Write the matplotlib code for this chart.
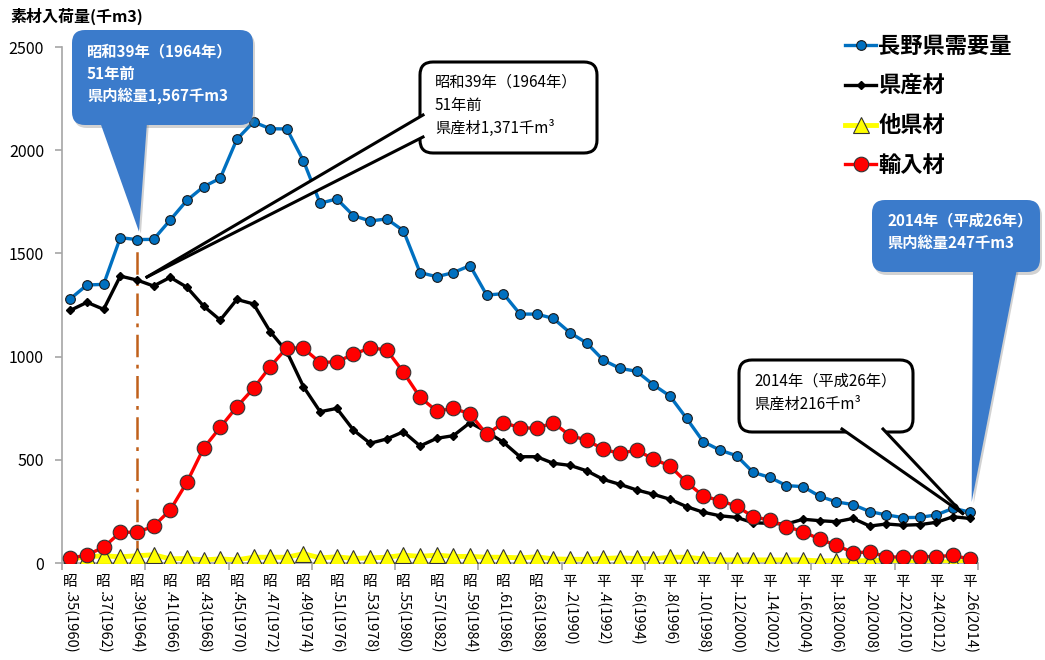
import matplotlib
matplotlib.use("Agg")
import matplotlib.pyplot as plt
from matplotlib.patches import FancyBboxPatch, Polygon
from matplotlib.lines import Line2D
from matplotlib.transforms import Affine2D, blended_transform_factory

plt.rcParams['font.family'] = ['Noto Sans CJK JP', 'DejaVu Sans']

# data (千m3), 1960-2014
years = list(range(1960, 2015))
demand = [1280, 1347, 1350, 1576, 1567, 1568, 1662, 1757, 1823, 1864,
          2053, 2137, 2104, 2103, 1948, 1743, 1764, 1683, 1657, 1667,
          1610, 1407, 1387, 1407, 1441, 1298, 1305, 1206, 1206, 1185,
          1116, 1066, 983, 943, 929, 864, 809, 701, 588, 547,
          520, 439, 415, 375, 370, 323, 296, 283, 249, 233,
          220, 221, 233, 265, 247]
pref = [1224, 1263, 1229, 1390, 1371, 1342, 1384, 1336, 1245, 1177,
        1277, 1255, 1121, 1024, 854, 733, 749, 644, 580, 601,
        636, 567, 604, 617, 680, 636, 585, 515, 515, 483,
        473, 447, 405, 381, 354, 333, 309, 273, 246, 229,
        221, 195, 192, 189, 212, 205, 200, 216, 179, 189,
        183, 186, 197, 224, 216]
other = [20, 30, 35, 30, 35, 40, 20, 22, 15, 20,
         15, 28, 28, 28, 45, 25, 30, 22, 25, 28,
         38, 32, 38, 32, 32, 28, 28, 25, 30, 20,
         18, 18, 22, 25, 22, 20, 28, 28, 20, 15,
         15, 15, 15, 15, 15, 10, 12, 10, 12, 12,
         5, 5, 5, 5, 8]
imported = [23, 39, 76, 149, 149, 178, 257, 391, 556, 657,
            757, 846, 951, 1043, 1040, 971, 975, 1011, 1043, 1032,
            924, 803, 736, 749, 723, 623, 680, 656, 652, 680,
            617, 596, 551, 531, 547, 504, 470, 391, 325, 302,
            276, 224, 208, 176, 152, 115, 86, 50, 53, 31,
            27, 31, 31, 37, 19]

W, H = 1045, 660
fig = plt.figure(figsize=(W / 100, H / 100), dpi=100)
ax = fig.add_axes([62 / W, 97 / H, 916 / W, 516 / H])
pxT = Affine2D().scale(1 / W, -1 / H).translate(0, 1) + fig.transFigure

x = list(range(len(years)))
ax.plot(x, demand, color='#0070C0', lw=2.4, marker='o', ms=7, mfc='#0070C0',
        mec='#1a1a1a', mew=0.8, label='長野県需要量', zorder=3)
ax.plot(x, pref, color='black', lw=2.4, marker='D', ms=4.5, mfc='black',
        mec='black', label='県産材', zorder=4)
ax.plot(x, other, color='#FFFF00', lw=3.5, marker='^', ms=12, mfc='#FFFF00',
        mec='#333333', mew=0.8, label='他県材', zorder=5)
ax.plot(x, imported, color='#FF0000', lw=2.4, marker='o', ms=10.5, mfc='#FF0000',
        mec='#333333', mew=0.8, label='輸入材', zorder=6)

# 1964 marker line
i64 = years.index(1964)
ax.plot([i64, i64], [0, demand[i64]], color='#C0601A', lw=1.8,
        ls=(0, (9, 3, 1.5, 3)), zorder=2)

ax.set_xlim(-0.5, len(years) - 0.5)
ax.set_ylim(0, 2500)
ax.set_yticks(range(0, 2501, 500))
ax.set_xticks([k - 0.5 for k in range(0, len(years) + 1, 5)])
ax.set_xticklabels([])
for s in ['top', 'right']:
    ax.spines[s].set_visible(False)
for s in ['left', 'bottom']:
    ax.spines[s].set_color('#a6a6a6')
    ax.spines[s].set_linewidth(1.2)
ax.tick_params(axis='both', colors='#a6a6a6', length=5, width=1.2)
ax.tick_params(axis='y', labelcolor='black', labelsize=11.5, pad=8)

# era style x labels: kanji upright, rest rotated
tx = blended_transform_factory(ax.transData, pxT)
for i in range(0, len(years), 2):
    y = years[i]
    if y <= 1988:
        era, rest = '昭', '.%d(%d)' % (y - 1925, y)
    else:
        era, rest = '平', '.%d(%d)' % (y - 1988, y)
    ax.text(i, 582, era, transform=tx, ha='center', va='center', fontsize=10.5, clip_on=False)
    ax.text(i, 591, rest, transform=tx, ha='center', va='top', rotation=-90,
            fontsize=10.5, clip_on=False)

fig.text(10, 16, '素材入荷量(千m3)', transform=pxT, fontsize=11.5, fontweight='bold',
         va='center', ha='left')

leg = ax.legend(loc='upper left', bbox_to_anchor=(834, 24), bbox_transform=pxT,
                frameon=False, prop={'weight': 'bold', 'size': 16},
                handlelength=1.4, handletextpad=0.1, labelspacing=0.75, borderpad=0)


def to_px(i, v):
    dx, dy = ax.transData.transform((i, v))
    return dx, H - dy


def callout(box, base, tip, lines, style):
    x0, y0, x1, y1 = box
    if style == 'blue':
        face, edge = '#3b7bcb', 'none'
        sh = FancyBboxPatch((x0 + 2, y0 + 3), x1 - x0, y1 - y0,
                            boxstyle='round,pad=0,rounding_size=13', transform=pxT,
                            fc='#7f7f7f', ec='none', alpha=0.35, zorder=9)
        fig.add_artist(sh)
        fig.add_artist(Polygon([(base[0][0] + 2, base[0][1]), (base[1][0] + 2, base[1][1]),
                                (tip[0] + 2, tip[1] + 2)], closed=True, transform=pxT,
                               fc='#7f7f7f', ec='none', alpha=0.35, zorder=9))
    else:
        face, edge = 'white', 'black'
    fig.add_artist(FancyBboxPatch((x0, y0), x1 - x0, y1 - y0,
                                  boxstyle='round,pad=0,rounding_size=13', transform=pxT,
                                  fc=face, ec=edge, lw=2.2, zorder=10))
    fig.add_artist(Polygon([base[0], base[1], tip], closed=True, transform=pxT,
                           fc=face, ec='none', zorder=11))
    if style != 'blue':
        for b in base:
            fig.add_artist(Line2D([b[0], tip[0]], [b[1], tip[1]], transform=pxT,
                                  color='black', lw=2.2, zorder=12))
    col = 'white' if style == 'blue' else 'black'
    wt = 'bold' if style == 'blue' else 'normal'
    for text, ty in lines:
        fig.text(x0 + 15, ty, text, transform=pxT, color=col, fontweight=wt,
                 fontsize=11, va='center', ha='left', zorder=13)


i14 = years.index(2014)
tx1, ty1 = to_px(i64, demand[i64])
callout((72, 30, 253, 125), [(100, 122), (147, 122)], (tx1 + 2, ty1 - 8),
        [('昭和39年（1964年）', 51), ('51年前', 74), ('県内総量1,567千m3', 96)], 'blue')
tx2, ty2 = to_px(i64, pref[i64])
callout((420, 62, 597, 153), [(423, 115), (423, 137)], (tx2 + 10, ty2 - 3),
        [('昭和39年（1964年）', 82), ('51年前', 105), ('県産材1,371千m³', 128)], 'white')
tx3, ty3 = to_px(i14, demand[i14])
callout((872, 200, 1040, 272), [(973, 269), (1017, 269)], (tx3 + 2, ty3 - 10),
        [('2014年（平成26年）', 220), ('県内総量247千m3', 243)], 'blue')
tx4, ty4 = to_px(i14, pref[i14])
callout((739, 360, 913, 432), [(842, 429), (883, 429)], (tx4 - 7, ty4 - 5),
        [('2014年（平成26年）', 381), ('県産材216千m³', 404)], 'white')

fig.savefig('out.png', dpi=100)
